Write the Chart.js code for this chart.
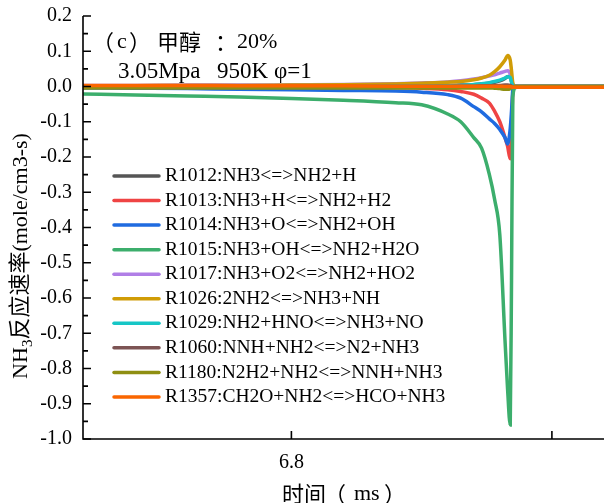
<!DOCTYPE html>
<html>
<head>
<meta charset="utf-8">
<script src="https://cdn.jsdelivr.net/npm/chart.js@4"></script>
<style>
  body{margin:0;background:#fff;}
  #wrap{width:604px;height:503px;}
</style>
</head>
<body>
<div id="wrap"><canvas id="rateChart" width="604" height="503"></canvas></div>
<script>
// time (ms)
const time = [6.72, 6.74, 6.76, 6.78, 6.80, 6.82, 6.84, 6.85, 6.86, 6.865, 6.87, 6.873, 6.876, 6.878, 6.880, 6.882, 6.883, 6.884, 6.8845, 6.885, 6.886, 6.89, 6.90, 6.92];

const labels = ["R1012:NH3<=>NH2+H", "R1013:NH3+H<=>NH2+H2", "R1014:NH3+O<=>NH2+OH", "R1015:NH3+OH<=>NH2+H2O",
  "R1017:NH3+O2<=>NH2+HO2", "R1026:2NH2<=>NH3+NH", "R1029:NH2+HNO<=>NH3+NO", "R1060:NNH+NH2<=>N2+NH3",
  "R1180:N2H2+NH2<=>NNH+NH3", "R1357:CH2O+NH2<=>HCO+NH3"];

const colors = ["#555555", "#ef4444", "#1f6be0", "#3cae6c", "#b07ee6", "#d09c06", "#16c6c6", "#7d5454", "#8f8f12", "#fa6600"];

const r1012 = [0, 0, 0, 0, 0.001, 0.001, 0.002, 0.002, 0.003, 0.004, 0.005, 0.007, 0.009, 0.012, 0.016, 0.023, 0.028, 0.029, 0.015, 0.003, 0, 0, 0, 0];
const r1013 = [-0.001, -0.001, -0.001, -0.001, -0.002, -0.002, -0.003, -0.005, -0.009, -0.014, -0.022, -0.033, -0.047, -0.07, -0.1, -0.145, -0.17, -0.205, -0.12, -0.02, 0, 0, 0, 0];
const r1014 = [-0.004, -0.005, -0.006, -0.008, -0.009, -0.011, -0.013, -0.016, -0.023, -0.033, -0.057, -0.072, -0.092, -0.105, -0.122, -0.145, -0.163, -0.12, -0.07, -0.01, 0, 0, 0, 0];
const r1015 = [-0.021, -0.024, -0.027, -0.03, -0.034, -0.039, -0.046, -0.052, -0.078, -0.1, -0.145, -0.175, -0.25, -0.32, -0.42, -0.72, -0.86, -0.96, -0.55, -0.03, -0.003, 0, 0, 0];
const r1017 = [0.003, 0.003, 0.004, 0.004, 0.005, 0.006, 0.008, 0.01, 0.013, 0.016, 0.021, 0.025, 0.03, 0.033, 0.038, 0.043, 0.045, 0.035, 0.015, 0.003, 0, 0, 0, 0];
const r1026 = [0.002, 0.002, 0.003, 0.003, 0.004, 0.005, 0.007, 0.009, 0.012, 0.014, 0.019, 0.024, 0.032, 0.042, 0.056, 0.075, 0.088, 0.075, 0.045, 0.01, 0, 0, 0, 0];
const r1029 = [0, 0, 0, 0, 0, 0, 0.001, 0.001, 0.002, 0.003, 0.006, 0.008, 0.011, 0.014, 0.018, 0.024, 0.028, 0.026, 0.012, 0.002, 0, 0, 0, 0];
const r1060 = [0, 0, 0, 0, 0, 0, 0, 0, 0, 0.001, 0.001, 0.002, 0.002, 0.003, 0.003, 0.004, 0.004, 0.003, 0.001, 0, 0, 0, 0, 0];
const r1180 = [-0.004, -0.004, -0.004, -0.004, -0.004, -0.004, -0.004, -0.004, -0.004, -0.004, -0.004, -0.004, -0.004, -0.005, -0.006, -0.008, -0.008, -0.006, -0.003, -0.001, 0, 0, 0, 0];
const r1357 = [0.003, 0.003, 0.003, 0.002, 0.002, 0.002, 0.001, 0.001, 0.001, 0.001, 0.001, 0.001, 0.001, 0.001, 0.001, 0, 0, 0, -0.001, -0.002, -0.002, -0.002, -0.002, -0.002];

const series = [r1012, r1013, r1014, r1015, r1017, r1026, r1029, r1060, r1180, r1357];

const xRange = [6.72, 6.92];
const yRange = [-1.0, 0.2];
const xTickValues = [6.8, 6.9];
const xTickLabels = ["6.8", ""];

const serif = "'Liberation Serif', 'Noto Sans CJK SC', serif";
const cjk = "'Noto Sans CJK SC', sans-serif";

const datasets = series.map((vals, i) => ({
  label: labels[i],
  data: vals.map((v, j) => ({x: time[j], y: v})),
  borderColor: colors[i],
  backgroundColor: colors[i],
  borderWidth: 3.5,
  pointRadius: 0,
  cubicInterpolationMode: "monotone",
  order: series.length - 1 - i
}));

// text pieces: [text, font, left x]
function runs(ctx, list, y) {
  list.forEach(r => {
    ctx.font = r[1];
    ctx.fillText(r[0], r[2], y);
  });
}

const decor = {
  id: "decor",
  afterDatasetsDraw(chart) {
    const ctx = chart.ctx, a = chart.chartArea;
    const x = chart.scales.x, y = chart.scales.y;
    ctx.save();
    ctx.strokeStyle = "#000";
    ctx.lineWidth = 1.6;
    ctx.beginPath();
    ctx.moveTo(a.left, a.top);
    ctx.lineTo(a.left, a.bottom);
    ctx.lineTo(a.right, a.bottom);
    ctx.stroke();

    // inward ticks, minor every 0.05
    ctx.beginPath();
    for (let k = 0; k <= 24; k++) {
      const py = y.getPixelForValue(yRange[0] + k * 0.05);
      ctx.moveTo(a.left, py);
      ctx.lineTo(a.left + (k % 2 == 0 ? 8 : 5), py);
    }
    x.ticks.forEach(t => {
      const px = x.getPixelForValue(t.value);
      ctx.moveTo(px, a.bottom);
      ctx.lineTo(px, a.bottom - 8);
    });
    ctx.stroke();

    // legend
    ctx.font = "19.5px " + serif;
    ctx.textBaseline = "middle";
    ctx.fillStyle = "#000";
    ctx.lineCap = "round";
    chart.data.datasets.forEach((ds, i) => {
      const ly = 176 + i * 24.55;
      ctx.strokeStyle = ds.borderColor;
      ctx.lineWidth = 3.5;
      ctx.beginPath();
      ctx.moveTo(114, ly);
      ctx.lineTo(159, ly);
      ctx.stroke();
      ctx.fillText(ds.label, 165, ly);
    });

    // notes
    const c22 = "22px " + cjk, s22 = "22px " + serif, s23 = "23px " + serif;
    runs(ctx, [["（", c22, 92], ["c", s22, 117], ["）", c22, 129], ["甲醇", c22, 157], ["：", c22, 215], ["20%", s22, 237]], 42);
    runs(ctx, [["3.05Mpa", s23, 118], ["950K", s23, 217], ["φ=1", s23, 274]], 72);

    // x title
    runs(ctx, [["时间", c22, 282], ["（", c22, 324], ["ms", s22, 354], ["）", c22, 384]], 494);

    // y title with subscript
    ctx.translate(27, 256);
    ctx.rotate(-Math.PI / 2);
    ctx.textAlign = "left";
    ctx.textBaseline = "alphabetic";
    const big = "22px " + serif, small = "15px " + serif;
    ctx.font = big;
    const w1 = ctx.measureText("NH").width;
    const w3 = ctx.measureText("反应速率(mole/cm3-s)").width;
    ctx.font = small;
    const w2 = ctx.measureText("3").width;
    let sx = -(w1 + w2 + w3) / 2;
    ctx.font = big;
    ctx.fillText("NH", sx, 0);
    ctx.font = small;
    ctx.fillText("3", sx + w1, 5);
    ctx.font = big;
    ctx.fillText("反应速率(mole/cm3-s)", sx + w1 + w2, 0);
    ctx.restore();
  }
};

new Chart(document.getElementById("rateChart"), {
  type: "line",
  data: {datasets: datasets},
  options: {
    responsive: false,
    animation: false,
    devicePixelRatio: 1,
    layout: {autoPadding: false, padding: {top: 16, right: 0, left: 0, bottom: 0}},
    plugins: {legend: {display: false}, tooltip: {enabled: false}},
    scales: {
      x: {
        type: "linear",
        min: xRange[0], max: xRange[1],
        grid: {display: false},
        border: {display: false},
        afterFit(s) { s.height = 64; },
        afterBuildTicks(s) { s.ticks = xTickValues.map(v => ({value: v})); },
        ticks: {
          autoSkip: false,
          maxRotation: 0,
          padding: 4,
          color: "#000",
          font: {family: serif, size: 20},
          callback: (v, i) => xTickLabels[i]
        }
      },
      y: {
        min: yRange[0], max: yRange[1],
        grid: {display: false},
        border: {display: false},
        afterFit(s) { s.width = 83; },
        ticks: {
          stepSize: 0.1,
          padding: 3,
          color: "#000",
          font: {family: serif, size: 20},
          callback: v => Math.abs(v) < 1e-9 ? "0.0" : v.toFixed(1)
        }
      }
    }
  },
  plugins: [decor]
});
</script>
</body>
</html>
